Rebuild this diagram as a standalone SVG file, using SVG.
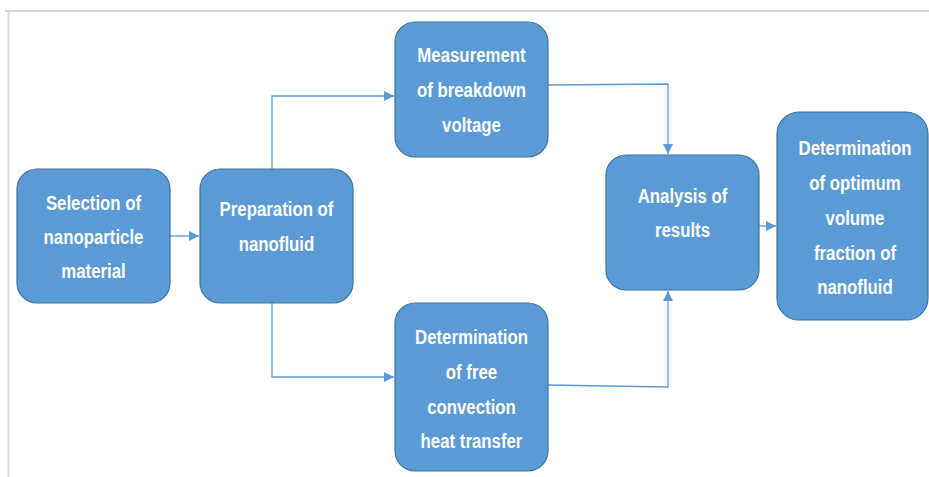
<svg xmlns="http://www.w3.org/2000/svg" width="929" height="477" viewBox="0 0 929 477">
<style>
.box{fill:#5B9BD5;stroke:#41719C;stroke-width:1.2}
.t{font-family:"Liberation Sans",Arial,sans-serif;font-weight:bold;font-size:20.5px;fill:#FFFFFF;text-anchor:middle}
.c{fill:none;stroke:#5B9BD5;stroke-width:1.3}
</style>
<defs>
<marker id="ah" viewBox="0 0 10 10" refX="10" refY="5" markerWidth="10" markerHeight="10" markerUnits="userSpaceOnUse" orient="auto">
<path d="M0,0 L10,5 L0,10 Z" fill="#5B9BD5"/>
</marker>
</defs>
<rect x="0" y="0" width="929" height="477" fill="#FFFFFF"/>
<g id="frame">
<line x1="5" y1="11" x2="929" y2="11" stroke="#D9D9D9" stroke-width="2"/>
<line x1="8.5" y1="11" x2="8.5" y2="477" stroke="#D9D9D9" stroke-width="2"/>
</g>
<g id="connectors">
<line class="c" x1="170" y1="236" x2="199" y2="236" marker-end="url(#ah)"/>
<polyline class="c" points="272,169 272,96 394,96" marker-end="url(#ah)"/>
<polyline class="c" points="272,303 272,377 394,377" marker-end="url(#ah)"/>
<polyline class="c" points="548,85 668,84 668,154" marker-end="url(#ah)"/>
<polyline class="c" points="548,385 668,387 668,291" marker-end="url(#ah)"/>
<line class="c" x1="759" y1="226" x2="776" y2="226" marker-end="url(#ah)"/>
</g>
<g id="selection">
<rect class="box" x="17" y="169" width="153" height="134" rx="20"/>
<text class="t" transform="translate(93.5,210) scale(0.82,1)">Selection of</text>
<text class="t" transform="translate(93.5,244) scale(0.82,1)">nanoparticle</text>
<text class="t" transform="translate(93.5,278) scale(0.82,1)">material</text>
</g>
<g id="preparation">
<rect class="box" x="200" y="169" width="153" height="134" rx="20"/>
<text class="t" transform="translate(276.5,216) scale(0.82,1)">Preparation of</text>
<text class="t" transform="translate(276.5,251) scale(0.82,1)">nanofluid</text>
</g>
<g id="measurement">
<rect class="box" x="395" y="22" width="153" height="135" rx="20"/>
<text class="t" transform="translate(471.5,62) scale(0.82,1)">Measurement</text>
<text class="t" transform="translate(471.5,97) scale(0.82,1)">of breakdown</text>
<text class="t" transform="translate(471.5,132) scale(0.82,1)">voltage</text>
</g>
<g id="freeconvection">
<rect class="box" x="395" y="303" width="153" height="168" rx="20"/>
<text class="t" transform="translate(471.5,344) scale(0.82,1)">Determination</text>
<text class="t" transform="translate(471.5,379) scale(0.82,1)">of free</text>
<text class="t" transform="translate(471.5,414) scale(0.82,1)">convection</text>
<text class="t" transform="translate(471.5,448) scale(0.82,1)">heat transfer</text>
</g>
<g id="analysis">
<rect class="box" x="606" y="155" width="153" height="135" rx="20"/>
<text class="t" transform="translate(682.5,203) scale(0.82,1)">Analysis of</text>
<text class="t" transform="translate(682.5,237) scale(0.82,1)">results</text>
</g>
<g id="optimum">
<rect class="box" x="777" y="112" width="151" height="208" rx="22"/>
<text class="t" transform="translate(855,155) scale(0.82,1)">Determination</text>
<text class="t" transform="translate(855,190) scale(0.82,1)">of optimum</text>
<text class="t" transform="translate(855,225) scale(0.82,1)">volume</text>
<text class="t" transform="translate(855,260) scale(0.82,1)">fraction of</text>
<text class="t" transform="translate(855,294) scale(0.82,1)">nanofluid</text>
</g>
</svg>
